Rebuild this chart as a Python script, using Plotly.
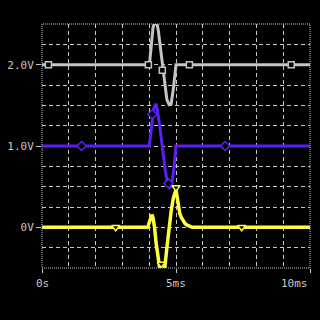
import plotly.graph_objects as go

# ---- data ----
gray_t = [0, 3.98, 4.02, 4.08, 4.14, 4.20, 4.28, 4.34, 4.42, 4.50, 4.58, 4.66, 4.74, 4.82, 4.90, 4.96, 5.0, 10]
gray_v = [2.0, 2.0, 2.04, 2.25, 2.45, 2.52, 2.52, 2.42, 2.2, 1.95, 1.75, 1.57, 1.51, 1.52, 1.7, 1.9, 2.0, 2.0]
gray_mt = [0.24, 3.97, 4.49, 5.5, 9.3]
gray_mv = [2.0, 2.0, 1.93, 2.0, 2.0]

purple_t = [0, 4.0, 4.04, 4.10, 4.16, 4.24, 4.30, 4.38, 4.46, 4.52, 4.60, 4.68, 4.76, 4.80, 4.86, 4.92, 4.97, 5.0, 10]
purple_v = [1.0, 1.0, 1.1, 1.3, 1.45, 1.52, 1.45, 1.28, 1.06, 0.9, 0.7, 0.55, 0.49, 0.5, 0.58, 0.72, 0.88, 1.0, 1.0]
purple_mt = [1.48, 4.12, 4.72, 6.83]
purple_mv = [1.0, 1.39, 0.54, 1.0]

yellow_t = [0, 3.95, 4.0, 4.06, 4.10, 4.14, 4.20, 4.26, 4.32, 4.40, 4.50, 4.58, 4.66, 4.74, 4.82, 4.90, 4.96, 5.0,
            5.05, 5.10, 5.14, 5.20, 5.26, 5.33, 5.40, 5.50, 5.60, 10]
yellow_v = [0, 0, 0.06, 0.14, 0.155, 0.12, 0.0, -0.2, -0.38, -0.52, -0.55, -0.5, -0.25, 0.0, 0.2, 0.36, 0.44, 0.46,
            0.36, 0.25, 0.17, 0.12, 0.08, 0.05, 0.03, 0.01, 0, 0]
yellow_mt = [2.75, 4.45, 5.0, 7.45]
yellow_mv = [0, -0.45, 0.49, 0]

x_tickvals = [0, 5, 10]
x_ticktext = ["0s", "5ms", "10ms"]
y_tickvals = [0, 1, 2]
y_ticktext = ["0V", "1.0V", "2.0V"]

GRAY = "#c4c4c4"
PURPLE = "#5c1ef4"
YELLOW = "#ffff40"
GRID = "#c8c8c8"
FONT = "DejaVu Sans Mono"

fig = go.Figure()

for t, v, mt, mv, col, sym, msize, lw in [
    (gray_t, gray_v, gray_mt, gray_mv, GRAY, "square", 6, 3),
    (purple_t, purple_v, purple_mt, purple_mv, PURPLE, "diamond", 7, 3),
    (yellow_t, yellow_v, yellow_mt, yellow_mv, YELLOW, "triangle-down", 7, 3.5),
]:
    fig.add_trace(go.Scatter(x=t, y=v, mode="lines", line=dict(color=col, width=lw),
                             hoverinfo="skip", showlegend=False))
    fig.add_trace(go.Scatter(x=mt, y=mv, mode="markers", cliponaxis=True,
                             marker=dict(symbol=sym, size=msize, color="black",
                                         line=dict(color=col, width=1.5)),
                             hoverinfo="skip", showlegend=False))

# x tick labels as annotations so the last one can sit inside the canvas
anchors = ["center", "center", "right"]
annotations = [dict(x=v, y=0, xref="x", yref="paper", text=txt, showarrow=False,
                    xanchor=a, yanchor="top", yshift=-7,
                    font=dict(family=FONT, size=11, color=GRID))
               for v, txt, a in zip(x_tickvals, x_ticktext, anchors)]

fig.update_layout(
    width=320, height=320,
    margin=dict(l=42, r=10, t=24, b=52),
    paper_bgcolor="black", plot_bgcolor="black",
    font=dict(family=FONT, size=11, color=GRID),
    annotations=annotations,
    shapes=[dict(type="rect", xref="paper", yref="paper", x0=0, x1=1, y0=0, y1=1,
                 line=dict(color=GRID, width=1, dash="1px,1px"), layer="above")],
)
fig.update_xaxes(
    range=[0, 10], tickvals=x_tickvals, showticklabels=False, automargin=False,
    ticks="outside", ticklen=4, tickcolor=GRID, tickwidth=1,
    showgrid=True, gridcolor=GRID, griddash="4px,3px", gridwidth=1,
    zeroline=False, showline=False,
    minor=dict(dtick=1, tick0=0, showgrid=True, gridcolor=GRID, griddash="4px,3px", gridwidth=1, ticks=""),
)
fig.update_yaxes(
    range=[-0.5, 2.5], tickvals=y_tickvals, ticktext=y_ticktext, automargin=False,
    ticks="outside", ticklen=5, tickcolor=GRID, tickwidth=1,
    showgrid=True, gridcolor=GRID, griddash="4px,3px", gridwidth=1,
    zeroline=False, showline=False,
    minor=dict(dtick=0.25, tick0=0, showgrid=True, gridcolor=GRID, griddash="4px,3px", gridwidth=1, ticks=""),
    tickfont=dict(family=FONT, size=11, color=GRID),
)

fig.write_html("out.html")
